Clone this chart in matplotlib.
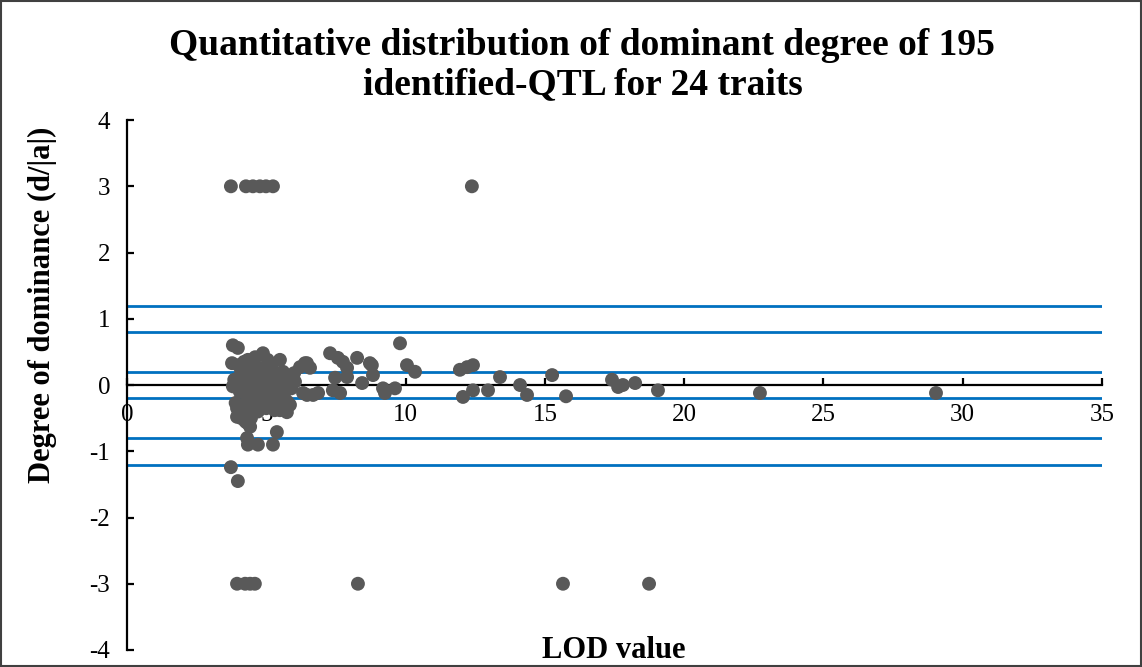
import matplotlib
matplotlib.use("Agg")
import matplotlib.pyplot as plt
from matplotlib.patches import Rectangle

plt.rcParams["font.family"] = ["Liberation Serif", "DejaVu Serif"]
plt.rcParams["axes.unicode_minus"] = False

# LOD value (x) and degree of dominance d/|a| (y) for each QTL
lod = [
    # saturated at +3
    3.73, 4.27, 4.52, 4.77, 4.99, 5.24, 12.38,
    # saturated at -3
    3.95, 4.24, 4.42, 4.59, 8.29, 15.65, 18.74,
    # strongly negative
    3.73, 3.98, 4.31, 4.34, 4.70, 5.24, 5.38,
    3.95, 4.31, 4.42,
    # upper part of main cluster
    3.80, 3.98, 4.88, 5.49, 3.77, 4.34, 9.80, 10.05, 10.34,
    # LOD 7-10 group
    7.29, 7.57, 7.90, 7.47, 7.39, 7.75, 8.26, 8.79, 8.83, 7.90,
    8.44, 9.19, 9.62, 9.26, 7.65, 8.72,
    # LOD 12-30
    11.95, 12.21, 12.42, 12.06, 12.42, 12.96, 13.39, 14.11, 14.36,
    15.26, 15.76, 17.41, 17.63, 17.80, 18.24, 19.06, 22.72, 29.04,
    # LOD 5.5-7 arm
    6.21, 6.46, 6.39, 6.57, 6.03, 6.46, 6.68, 6.86, 6.32, 5.85,
    5.74, 5.49, 5.60,
    # dense core
    3.85, 3.90, 4.00, 4.05, 4.10, 4.15, 4.20, 4.20, 4.25, 4.30,
    4.30, 4.35, 4.40, 4.40, 4.45, 4.50, 4.50, 4.55, 4.60, 4.60,
    4.65, 4.70, 4.70, 4.75, 4.80, 4.85, 4.90, 4.90, 4.95, 5.00,
    5.00, 5.05, 5.10, 5.10, 5.15, 5.20, 5.25, 5.30, 5.30, 5.35,
    5.40, 5.45, 5.50, 5.55, 5.60, 5.65, 5.70, 5.75, 5.80, 5.90,
    6.00, 4.00, 3.95, 4.10, 4.25, 4.45, 5.05, 5.20, 4.60, 3.80,
]
dominance = [
    3, 3, 3, 3, 3, 3, 3,
    -3, -3, -3, -3, -3, -3, -3,
    -1.24, -1.45, -0.80, -0.90, -0.90, -0.90, -0.71,
    -0.48, -0.57, -0.63,
    0.60, 0.56, 0.48, 0.38, 0.33, 0.38, 0.63, 0.30, 0.20,
    0.48, 0.41, 0.26, 0.11, -0.08, 0.35, 0.41, 0.30, 0.15, 0.12,
    0.03, -0.05, -0.05, -0.12, -0.12, 0.33,
    0.23, 0.27, 0.30, -0.18, -0.08, -0.08, 0.12, 0.00, -0.15,
    0.15, -0.17, 0.08, -0.03, 0.00, 0.03, -0.08, -0.12, -0.12,
    0.27, 0.33, 0.33, 0.26, 0.05, -0.15, -0.15, -0.12, -0.12, -0.30,
    -0.41, -0.38, -0.18,
    0.08, -0.27, 0.05, -0.10, 0.20, -0.05, 0.35, -0.30, 0.10, -0.15,
    0.00, -0.45, 0.25, -0.20, 0.05, -0.35, 0.15, -0.08, 0.30, -0.25,
    0.02, -0.40, 0.18, -0.12, 0.08, -0.30, 0.25, -0.05, -0.20, 0.10,
    -0.35, 0.00, -0.15, 0.20, -0.28, 0.05, -0.10, 0.15, -0.38, -0.02,
    -0.22, 0.10, -0.08, 0.00, 0.20, -0.12, 0.05, -0.25, 0.12, -0.05,
    0.18, 0.30, -0.35, -0.50, -0.55, -0.50, 0.38, 0.30, 0.42, -0.02,
]

# dominance class thresholds
thresholds = [1.2, 0.8, 0.2, -0.2, -0.8, -1.2]

x_ticks = [0, 5, 10, 15, 20, 25, 30, 35]
y_ticks = [-4, -3, -2, -1, 0, 1, 2, 3, 4]

fig = plt.figure(figsize=(11.42, 6.67), dpi=100)
ax = fig.add_axes([0.1112, 0.0255, 0.8538, 0.7945])

for t in thresholds:
    ax.plot([0, 35], [t, t], color="#0070C0", lw=2.0, zorder=1)

ax.scatter(lod, dominance, s=100, color="#595959", edgecolors="none", zorder=3)

ax.set_xlim(0, 35)
ax.set_ylim(-4, 4)
ax.set_xticks(x_ticks)
ax.set_yticks(y_ticks)

ax.spines["top"].set_visible(False)
ax.spines["right"].set_visible(False)
ax.spines["bottom"].set_position(("data", 0))
ax.spines["bottom"].set_zorder(2)
for s in ("left", "bottom"):
    ax.spines[s].set_linewidth(1.6)

ax.tick_params(axis="x", direction="in", length=5, width=1.6, pad=14,
               labelsize=18)
ax.tick_params(axis="y", direction="in", length=5, width=1.6, pad=12,
               labelsize=18)

fig.text(0.037, 0.543, "Degree of dominance (d/|a|)", rotation=90,
         ha="center", va="center", fontsize=22, fontweight="bold")
fig.text(0.537, 0.025, "LOD value", ha="center", va="center",
         fontsize=22, fontweight="bold")
fig.text(0.51, 0.903, "Quantitative distribution of dominant degree of 195\n"
         "identified-QTL for 24 traits", ha="center", va="center",
         fontsize=27, fontweight="bold", linespacing=1.15)

fig.patches.append(Rectangle((0.001, 0.001), 0.998, 0.997,
                             transform=fig.transFigure, fill=False,
                             edgecolor="#404040", lw=1.5))

fig.savefig("out.png", dpi=100)
